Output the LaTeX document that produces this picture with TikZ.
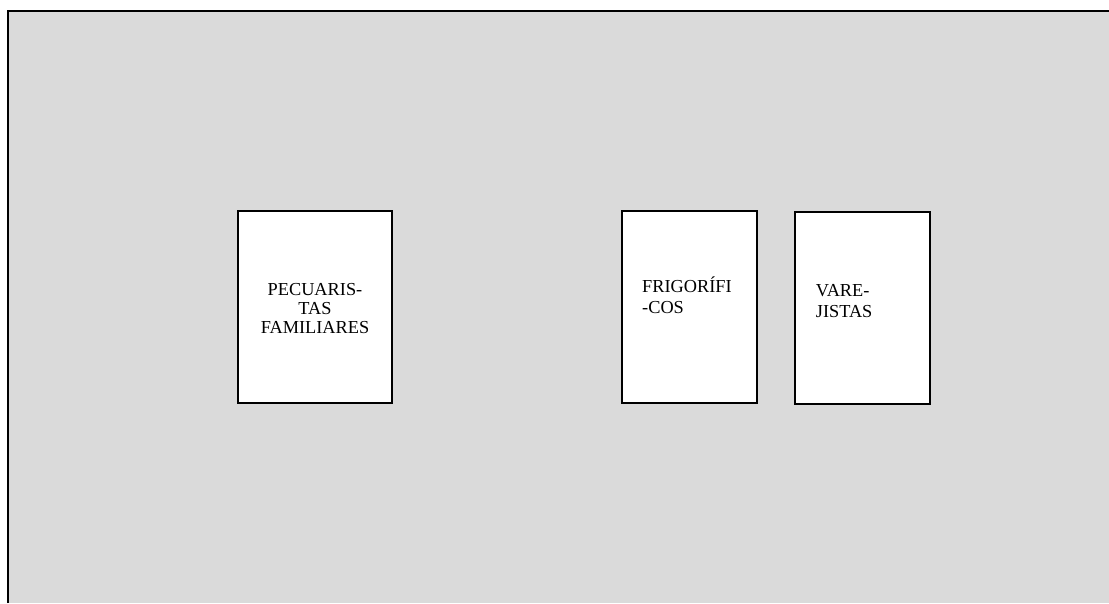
\documentclass[tikz,border=0pt]{standalone}
\usepackage{fontspec}
\setmainfont{Liberation Serif}
\definecolor{bggray}{RGB}{218,218,218}
\begin{document}
\begin{tikzpicture}[x=1pt,y=-1pt,
  agent/.style={draw=black,line width=1.6pt,fill=white,inner sep=0pt},
  lbl/.style={inner sep=0pt,font=\fontsize{18.3}{18.7}\selectfont}]
\useasboundingbox (0,0) rectangle (1109,603);
\fill[white] (0,0) rectangle (1109,603);
\fill[bggray] (8,10.7) rectangle (1109,603);
\draw[line width=2pt,black] (7.8,603) -- (7.8,10.7) -- (1109,10.7);
% boxes
\node[agent,minimum width=154pt,minimum height=192pt] (pec) at (315,307) {};
\node[agent,minimum width=135pt,minimum height=192pt] (fri) at (689.3,307) {};
\node[agent,minimum width=135pt,minimum height=192pt] (var) at (862.5,308.1) {};
% labels
\node[lbl,align=center,anchor=base] (tpec) at (315,333) {PECUARIS-\\TAS\\FAMILIARES};
\node[lbl,align=left,anchor=base west,font=\fontsize{18.3}{21.8}\selectfont] (tfri) at (642,313.8) {FRIGORÍFI\\-COS};
\node[lbl,align=left,anchor=base west,font=\fontsize{18.3}{20.7}\selectfont] (tvar) at (815.7,317.3) {VARE-\\JISTAS};
\end{tikzpicture}
\end{document}
